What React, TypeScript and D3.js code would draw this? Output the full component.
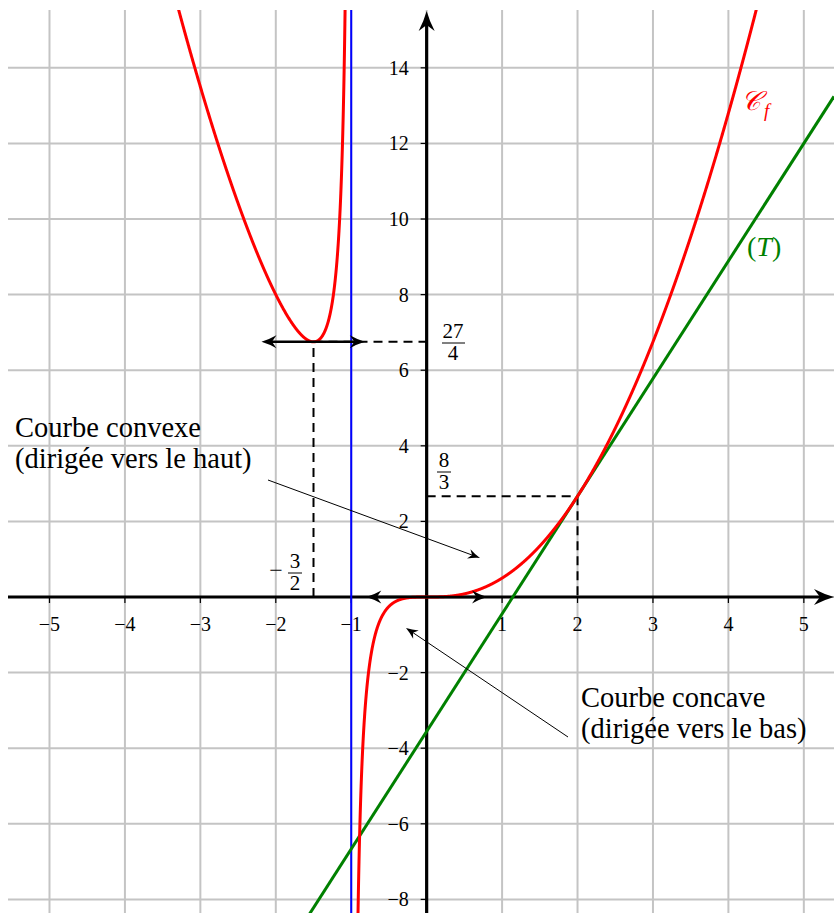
import React from "react";
import * as d3 from "d3";

// Study of f(x) = x^3 / (x + 1): asymptote, minimum, inflection at 0, tangent at x = 2
const xTicks = [-5, -4, -3, -2, -1, 1, 2, 3, 4, 5];
const yTicks = [-8, -6, -4, -2, 2, 4, 6, 8, 10, 12, 14];
const gridX = [-5, -4, -3, -2, -1, 0, 1, 2, 3, 4, 5];
const gridY = [-8, -6, -4, -2, 0, 2, 4, 6, 8, 10, 12, 14];
const asymptoteX = -1;
const minPoint = { x: -1.5, y: 27 / 4 };
const tangentPoint = { x: 2, y: 8 / 3 };
const tangentSlope = 28 / 9;
const leftBranch = [-3.45, -1.07];
const rightBranch = [-0.915, 4.45];

const f = (x: number) => (x * x * x) / (x + 1);

const W = 834;
const H = 913;
const xDomain: [number, number] = [-5.55, 5.4];
const yDomain: [number, number] = [-8.36, 15.53];
const left = 8;
const right = 834;
const top = 10;
const bottom = 913;

const FONT = "'Liberation Serif', 'Times New Roman', serif";

function arrowHead(tx: number, ty: number, dx: number, dy: number, len: number, half: number) {
  const n = Math.hypot(dx, dy);
  const ux = dx / n;
  const uy = dy / n;
  const px = -uy;
  const py = ux;
  const bx = tx - ux * len;
  const by = ty - uy * len;
  const nx = tx - ux * len * 0.7;
  const ny = ty - uy * len * 0.7;
  return `M${tx},${ty} Q${tx - ux * len * 0.5 + px * half * 0.35},${ty - uy * len * 0.5 + py * half * 0.35} ${bx + px * half},${by + py * half} L${nx},${ny} L${bx - px * half},${by - py * half} Q${tx - ux * len * 0.5 - px * half * 0.35},${ty - uy * len * 0.5 - py * half * 0.35} ${tx},${ty} Z`;
}

export default function App() {
  const x = d3.scaleLinear().domain(xDomain).range([left, right]);
  const y = d3.scaleLinear().domain(yDomain).range([bottom, top]);

  const line = d3
    .line<number>()
    .x((d) => x(d))
    .y((d) => y(f(d)))
    .curve(d3.curveLinear);

  const leftXs = d3.range(leftBranch[0], leftBranch[1], 0.002).concat([leftBranch[1]]);
  const rightXs = d3.range(rightBranch[0], rightBranch[1], 0.002).concat([rightBranch[1]]);

  const tangent = (t: number) => tangentPoint.y + tangentSlope * (t - tangentPoint.x);

  const x0 = x(0);
  const y0 = y(0);

  // double-headed horizontal arrows (tangents at the minimum and at the origin)
  const minArrow = [minPoint.x - 0.69, minPoint.x + 0.68];
  const originArrow = [-0.8, 0.8];

  const dash = "9 6";

  return (
    <svg width={W} height={H} style={{ display: "block", position: "absolute", left: 0, top: 0 }}>
      <defs>
        <clipPath id="plot">
          <rect x={left} y={top} width={right - left} height={bottom - top} />
        </clipPath>
      </defs>
      <rect x={0} y={0} width={W} height={H} fill="#fff" />

      {/* grid */}
      <g stroke="#c4c4c4" strokeWidth={2}>
        {gridX.map((g) => (
          <line key={"gx" + g} x1={x(g)} x2={x(g)} y1={top} y2={bottom} />
        ))}
        {gridY.map((g) => (
          <line key={"gy" + g} x1={left} x2={right} y1={y(g)} y2={y(g)} />
        ))}
      </g>

      {/* dashed guides */}
      <g stroke="#000" strokeWidth={2} strokeDasharray={dash} fill="none">
        <line x1={x(minPoint.x)} x2={x(minPoint.x)} y1={y0} y2={y(minPoint.y)} />
        <line x1={x(minPoint.x)} x2={x0} y1={y(minPoint.y)} y2={y(minPoint.y)} />
        <line x1={x0} x2={x(tangentPoint.x)} y1={y(tangentPoint.y)} y2={y(tangentPoint.y)} />
        <line x1={x(tangentPoint.x)} x2={x(tangentPoint.x)} y1={y(tangentPoint.y)} y2={y0} />
      </g>

      {/* axes */}
      <g stroke="#000" strokeWidth={3.2}>
        <line x1={left} x2={right - 10} y1={y0} y2={y0} />
        <line x1={x0} x2={x0} y1={bottom} y2={top + 10} />
      </g>
      <path d={arrowHead(right, y0, 1, 0, 20, 8)} fill="#000" />
      <path d={arrowHead(x0, top + 1, 0, -1, 20, 8)} fill="#000" />

      {/* ticks */}
      <g stroke="#000" strokeWidth={1.2}>
        {xTicks.map((t) => (
          <line key={"tx" + t} x1={x(t)} x2={x(t)} y1={y0} y2={y0 + 6} />
        ))}
        {yTicks.map((t) => (
          <line key={"ty" + t} x1={x0 - 6} x2={x0} y1={y(t)} y2={y(t)} />
        ))}
      </g>
      <g fontFamily={FONT} fontSize={20} fill="#000">
        {xTicks.map((t) => (
          <text key={"lx" + t} x={x(t)} y={y0 + 34} textAnchor="middle">
            {t < 0 ? "\u2212" + Math.abs(t) : t}
          </text>
        ))}
        {yTicks.map((t) => (
          <text key={"ly" + t} x={x0 - 18} y={y(t) + 7} textAnchor="end">
            {t < 0 ? "\u2212" + Math.abs(t) : t}
          </text>
        ))}
      </g>

      {/* asymptote */}
      <line x1={x(asymptoteX)} x2={x(asymptoteX)} y1={top} y2={bottom} stroke="#0000ff" strokeWidth={2} />

      <g clipPath="url(#plot)" fill="none">
        {/* tangent (T) at x = 2 */}
        <line
          x1={x(xDomain[0])}
          y1={y(tangent(xDomain[0]))}
          x2={x(xDomain[1])}
          y2={y(tangent(xDomain[1]))}
          stroke="#008000"
          strokeWidth={3}
        />
        {/* curve Cf */}
        <path d={line(leftXs) || ""} stroke="#ff0000" strokeWidth={3} strokeLinejoin="round" />
        <path d={line(rightXs) || ""} stroke="#ff0000" strokeWidth={3} strokeLinejoin="round" />
      </g>

      {/* horizontal tangent arrows */}
      <g>
        <line x1={x(minArrow[0]) + 8} x2={x(minArrow[1]) - 8} y1={y(minPoint.y)} y2={y(minPoint.y)} stroke="#000" strokeWidth={2.5} />
        <path d={arrowHead(x(minArrow[0]), y(minPoint.y), -1, 0, 15, 6.5)} fill="#000" />
        <path d={arrowHead(x(minArrow[1]), y(minPoint.y), 1, 0, 15, 6.5)} fill="#000" />
        <line x1={x(originArrow[0]) + 8} x2={x(originArrow[1]) - 8} y1={y0} y2={y0} stroke="#000" strokeWidth={2.5} />
        <path d={arrowHead(x(originArrow[0]), y0, -1, 0, 15, 6.5)} fill="#000" />
        <path d={arrowHead(x(originArrow[1]), y0, 1, 0, 15, 6.5)} fill="#000" />
      </g>

      {/* value labels */}
      <g fontFamily={FONT} fontSize={21} fill="#000" textAnchor="middle">
        <text x={453} y={338}>27</text>
        <line x1={442} x2={465} y1={343} y2={343} stroke="#000" strokeWidth={1} />
        <text x={453} y={360}>4</text>

        <text x={444} y={467}>8</text>
        <line x1={437} x2={451} y1={472} y2={472} stroke="#000" strokeWidth={1} />
        <text x={444} y={489}>3</text>

        <text x={276} y={578} fontSize={24}>{"\u2212"}</text>
        <text x={295} y={568}>3</text>
        <line x1={288} x2={302} y1={573} y2={573} stroke="#000" strokeWidth={1} />
        <text x={295} y={590}>2</text>
      </g>

      {/* curve names */}
      <g fontFamily={FONT}>
        <text x={741} y={110} fill="#ff0000" fontSize={27} fontStyle="italic">
          {"\u{1D49E}"}
        </text>
        <text x={764} y={117} fill="#ff0000" fontSize={19} fontStyle="italic">
          f
        </text>
        <text x={747} y={256} fill="#008000" fontSize={28}>
          (<tspan fontStyle="italic">T</tspan>)
        </text>
      </g>

      {/* annotations */}
      <g fontFamily={FONT} fontSize={28.5} fill="#000">
        <text x={15} y={437}>Courbe convexe</text>
        <text x={15} y={468}>(dirigée vers le haut)</text>
        <text x={581} y={707}>Courbe concave</text>
        <text x={581} y={738}>(dirigée vers le bas)</text>
      </g>
      <g>
        <line x1={268} y1={480} x2={472} y2={555} stroke="#000" strokeWidth={1} />
        <path d={arrowHead(480, 558, 480 - 268, 558 - 480, 12, 5)} fill="#000" />
        <line x1={568} y1={737} x2={412} y2={632} stroke="#000" strokeWidth={1} />
        <path d={arrowHead(406, 628, 406 - 568, 628 - 737, 12, 5)} fill="#000" />
      </g>
    </svg>
  );
}
